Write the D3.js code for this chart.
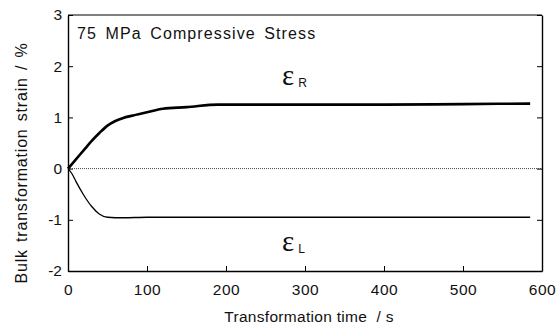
<!DOCTYPE html>
<html>
<head>
<meta charset="utf-8">
<script src="https://cdn.jsdelivr.net/npm/d3@7"></script>
<style>
  body { margin: 0; background: #fff; }
  text { font-family: "Liberation Sans", Arial, sans-serif; fill: #111; }
</style>
</head>
<body>
<div id="chart"></div>
<script>
// data
var xTicks = [0, 100, 200, 300, 400, 500, 600];
var yTicks = [-2, -1, 0, 1, 2, 3];

var timeR = [0, 10, 20, 30, 40, 50, 60, 70, 80, 100, 120, 150, 190, 300, 400, 500, 585];
var strainR = [0, 0.18, 0.36, 0.54, 0.70, 0.84, 0.93, 0.99, 1.03, 1.10, 1.17, 1.20, 1.25, 1.25, 1.25, 1.26, 1.27];

var timeL = [0, 5, 10, 20, 30, 40, 50, 70, 100, 300, 585];
var strainL = [0, -0.10, -0.25, -0.52, -0.74, -0.89, -0.95, -0.96, -0.95, -0.95, -0.95];

var margin = {top: 15, right: 18, bottom: 58, left: 68},
    width = 560 - margin.left - margin.right,
    height = 329 - margin.top - margin.bottom;

var svg = d3.select("#chart")
  .append("svg")
    .attr("width", 560)
    .attr("height", 329)
  .append("g")
    .attr("transform", "translate(" + margin.left + "," + margin.top + ")");

var x = d3.scaleLinear().domain([0, 600]).range([0, width]);
var y = d3.scaleLinear().domain([-2, 3]).range([height, 0]);

var fmt = function(d) { return String(d); };

// axes with inward ticks
svg.append("g")
    .attr("transform", "translate(0," + height + ")")
    .call(d3.axisBottom(x).tickValues(xTicks).tickFormat(fmt).tickSize(-5).tickPadding(13).tickSizeOuter(0))
    .call(function(g) { g.selectAll("text").style("font-size", "15.5px").style("letter-spacing", "0.5px"); });

svg.append("g")
    .call(d3.axisLeft(y).tickValues(yTicks).tickFormat(fmt).tickSize(-5).tickPadding(6).tickSizeOuter(0))
    .call(function(g) { g.selectAll("text").style("font-size", "15.5px"); });

svg.append("g")
    .attr("transform", "translate(" + width + ",0)")
    .call(d3.axisRight(y).tickValues(yTicks).tickSize(-5).tickSizeOuter(0).tickFormat(""));

svg.append("line")
    .attr("x1", 0).attr("x2", width).attr("y1", 0).attr("y2", 0)
    .attr("stroke", "#000").attr("stroke-width", 1.2);

svg.selectAll(".domain").attr("stroke-width", 1.4);

// zero reference line
svg.append("line")
    .attr("x1", x(0)).attr("x2", x(600)).attr("y1", y(0)).attr("y2", y(0))
    .attr("stroke", "#444").attr("stroke-width", 1).attr("stroke-dasharray", "1,1");

var line = d3.line().curve(d3.curveMonotoneX)
    .x(function(d) { return x(d[0]); })
    .y(function(d) { return y(d[1]); });

svg.append("path")
    .datum(d3.zip(timeR, strainR))
    .attr("d", line)
    .attr("fill", "none").attr("stroke", "#000").attr("stroke-width", 2.6);

svg.append("path")
    .datum(d3.zip(timeL, strainL))
    .attr("d", line)
    .attr("fill", "none").attr("stroke", "#000").attr("stroke-width", 1.3);

// annotations
svg.append("text")
    .attr("x", 9).attr("y", 24)
    .style("font-size", "16px")
    .style("letter-spacing", "1.1px")
    .style("word-spacing", "3px")
    .text("75 MPa Compressive Stress");

function epsLabel(px, py, sub) {
  var t = svg.append("text").attr("x", px).attr("y", py);
  t.append("tspan").style("font-family", "'Liberation Serif', 'DejaVu Serif', serif")
    .style("font-size", "29px").text("ε");
  t.append("tspan").attr("dx", 4).attr("dy", 2).style("font-size", "12px").text(sub);
}
epsLabel(x(271), y(1.64), "R");
epsLabel(x(271), y(-1.6), "L");

// axis titles
svg.append("text")
    .attr("x", width / 2 + 4).attr("y", height + 51)
    .attr("text-anchor", "middle")
    .style("font-size", "15.5px")
    .style("letter-spacing", "0.3px")
    .attr("xml:space", "preserve")
    .text("Transformation time  / s");

svg.append("text")
    .attr("transform", "translate(" + (-41) + "," + (height / 2 + 20) + ") rotate(-90)")
    .attr("text-anchor", "middle")
    .style("font-size", "16px")
    .style("letter-spacing", "0.8px")
    .style("word-spacing", "2px")
    .text("Bulk transformation strain / %");
</script>
</body>
</html>
